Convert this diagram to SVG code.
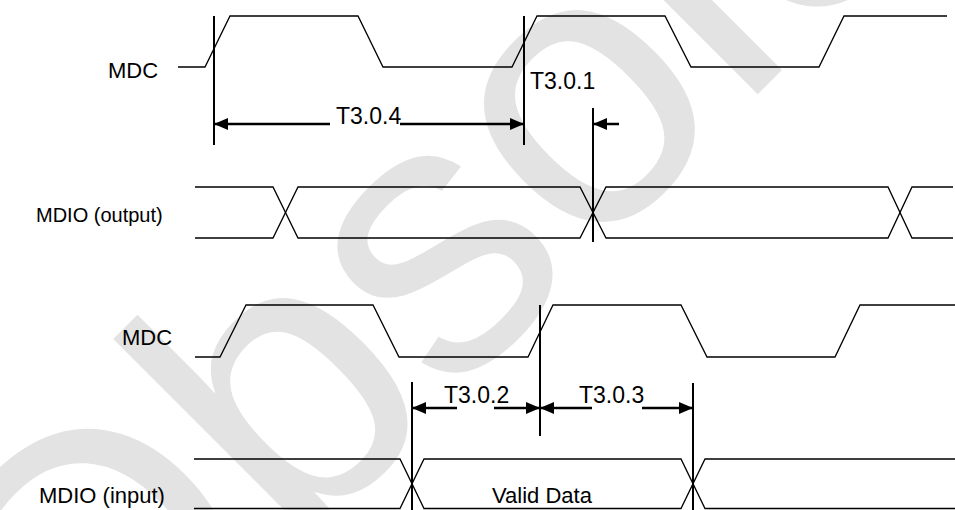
<svg xmlns="http://www.w3.org/2000/svg" width="955" height="510" viewBox="0 0 955 510">
  <style>
    .wave { fill: none; stroke: #000; stroke-width: 1.3; stroke-linejoin: miter; }
    .tick { fill: none; stroke: #000; stroke-width: 2; }
    .dim { fill: none; stroke: #000; stroke-width: 2.5; marker-end: url(#ah); }
    .lbl { font-family: "Liberation Sans", Arial, sans-serif; font-size: 22px; fill: #000; }
    .tl { font-family: "Liberation Sans", Arial, sans-serif; font-size: 23px; fill: #000; }
    .wm { font-family: "Liberation Sans", Arial, sans-serif; font-size: 390px; fill: #e3e3e3; }
  </style>
  <defs>
    <marker id="ah" markerUnits="userSpaceOnUse" markerWidth="14" markerHeight="12" refX="14" refY="6" orient="auto">
      <path d="M0,0 L14,6 L0,12 z" fill="#000"/>
    </marker>
  </defs>
  <rect width="955" height="510" fill="#fff"/>
  <g id="watermark">
    <text class="wm" transform="translate(80,772) rotate(-45)">Obsolete</text>
  </g>

  <g id="mdc-top">
    <text class="lbl" x="108" y="78">MDC</text>
    <path class="wave" d="M178,67 H205 L230,16 H358 L383,67 H512 L537,16 H665 L691,67 H819 L844,16 H947"/>
  </g>

  <g id="mdio-output">
    <text class="lbl" x="36" y="222" style="font-size:20px">MDIO (output)</text>
    <path class="wave" d="M195,187 H273 L298,238 H580 L606,187 H888 L912,238 H953"/>
    <path class="wave" d="M195,238 H273 L298,187 H580 L606,238 H888 L912,187 H953"/>
  </g>

  <g id="mdc-bottom">
    <text class="lbl" x="122" y="345">MDC</text>
    <path class="wave" d="M195,357 H220 L246,305 H373 L399,357 H528 L553,305 H681 L707,357 H835 L860,305 H955"/>
  </g>

  <g id="mdio-input">
    <text class="lbl" x="39" y="503">MDIO (input)</text>
    <text class="lbl" x="492" y="503">Valid Data</text>
    <path class="wave" d="M194,459 H400 L424,508.5 H681 L705,459 H955"/>
    <path class="wave" d="M194,508.5 H400 L424,459 H681 L705,508.5 H955"/>
  </g>

  <g id="connectors">
    <line class="tick" x1="214" y1="16" x2="214" y2="145"/>
    <line class="tick" x1="524" y1="16" x2="524" y2="145"/>
    <line class="tick" x1="593" y1="108" x2="593" y2="242"/>
    <line class="tick" x1="540" y1="305" x2="540" y2="436"/>
    <line class="tick" x1="412" y1="382" x2="412" y2="510"/>
    <line class="tick" x1="693" y1="383" x2="693" y2="510"/>

    <line class="dim" x1="330" y1="124" x2="214" y2="124"/>
    <line class="dim" x1="400" y1="124" x2="524" y2="124"/>
    <line class="dim" x1="619" y1="124" x2="593" y2="124"/>

    <line class="dim" x1="457" y1="408" x2="412" y2="408"/>
    <line class="dim" x1="494" y1="408" x2="540" y2="408"/>
    <line class="dim" x1="592" y1="408" x2="540" y2="408"/>
    <line class="dim" x1="642" y1="408" x2="693" y2="408"/>

    <text class="tl" x="336" y="124">T3.0.4</text>
    <text class="tl" x="530" y="89">T3.0.1</text>
    <text class="tl" x="444" y="403">T3.0.2</text>
    <text class="tl" x="579" y="403">T3.0.3</text>
  </g>
</svg>
